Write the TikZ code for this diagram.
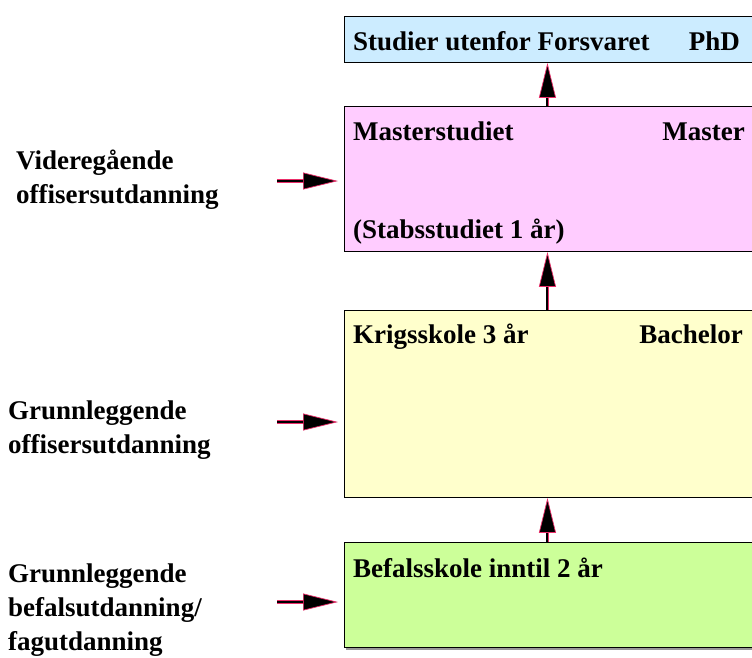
\documentclass[tikz,border=0pt]{standalone}
\usepackage{fontspec}
\setmainfont{Liberation Serif}
\usetikzlibrary{arrows.meta, positioning, calc}
\definecolor{phdblue}{RGB}{204,236,255}
\definecolor{masterpink}{RGB}{255,204,255}
\definecolor{bachyellow}{RGB}{255,255,204}
\definecolor{befalgreen}{RGB}{204,255,153}
\definecolor{edgered}{RGB}{235,45,105}
\tikzset{
  stage/.style  = {rectangle, draw=black, line width=0.9pt, anchor=north west,
                   minimum width=416pt, inner sep=0pt},
  btext/.style  = {inner sep=0pt, font=\bfseries\fontsize{27}{34}\selectfont},
  side/.style   = {btext, align=left, anchor=base west},
  flow/.style   = {draw=black, line width=2pt,
                   -{Triangle[length=35pt, width=17pt, fill=black,
                              color=edgered, line width=0.7pt]},
                   preaction={draw=edgered, line width=3.4pt,
                              arrows=-, shorten >=20pt}},
}

\begin{document}
\begin{tikzpicture}[x=1pt, y=-1pt]
  \clip (0,0) rectangle (752,657);
  \fill[white] (0,0) rectangle (752,657);

  % Stages, bottom to top
  \node[stage, fill=phdblue,    minimum height=46pt]  (phd)    at (344,16)  {};
  \node[stage, fill=masterpink, minimum height=145pt] (master) at (344,106) {};
  \node[stage, fill=bachyellow, minimum height=187pt] (bach)   at (344,310) {};
  \fill[black!40] (346,647) rectangle (760,650);
  \node[stage, fill=befalgreen, minimum height=105pt] (befal)  at (344,542) {};

  % Texts in the stages
  \node[btext, anchor=base west] (phdL) at (353,50)  {Studier utenfor Forsvaret};
  \node[btext, anchor=base east] (phdR) at (740,50)  {PhD};
  \node[btext, anchor=base west] (masL) at (353,140) {Masterstudiet};
  \node[btext, anchor=base east] (masR) at (745,140) {Master};
  \node[btext, anchor=base west] (stab) at (353,238) {(Stabsstudiet 1 år)};
  \node[btext, anchor=base west] (kriL) at (353,343) {Krigsskole 3 år};
  \node[btext, anchor=base east] (kriR) at (743,343) {Bachelor};
  \node[btext, anchor=base west] (befL) at (353,577) {Befalsskole inntil 2 år};

  % Side labels (base = last line)
  \node[side] (vid)  at (16,203) {Videregående\\offisersutdanning};
  \node[side] (gro)  at (8,453)  {Grunnleggende\\offisersutdanning};
  \node[side] (grb)  at (8,650)  {Grunnleggende\\befalsutdanning/\\fagutdanning};

  % Entry points
  \coordinate (inV) at (277,181);
  \coordinate (inO) at (277,422);
  \coordinate (inB) at (277,602);

  % Arrows: into the stages
  \draw[flow] (inV) -- ([xshift=-6pt]inV -| master.west);
  \draw[flow] (inO) -- ([xshift=-6pt]inO -| bach.west);
  \draw[flow] (inB) -- ([xshift=-6pt]inB -| befal.west);

  % Arrows: upward
  \draw[flow] ([xshift=-5pt]befal.north)  -- ([xshift=-5pt]bach.south);
  \draw[flow] ([xshift=-5pt]bach.north)   -- ([xshift=-5pt]master.south);
  \draw[flow] ([xshift=-5pt]master.north) -- ([xshift=-5pt]phd.south);
\end{tikzpicture}
\end{document}
